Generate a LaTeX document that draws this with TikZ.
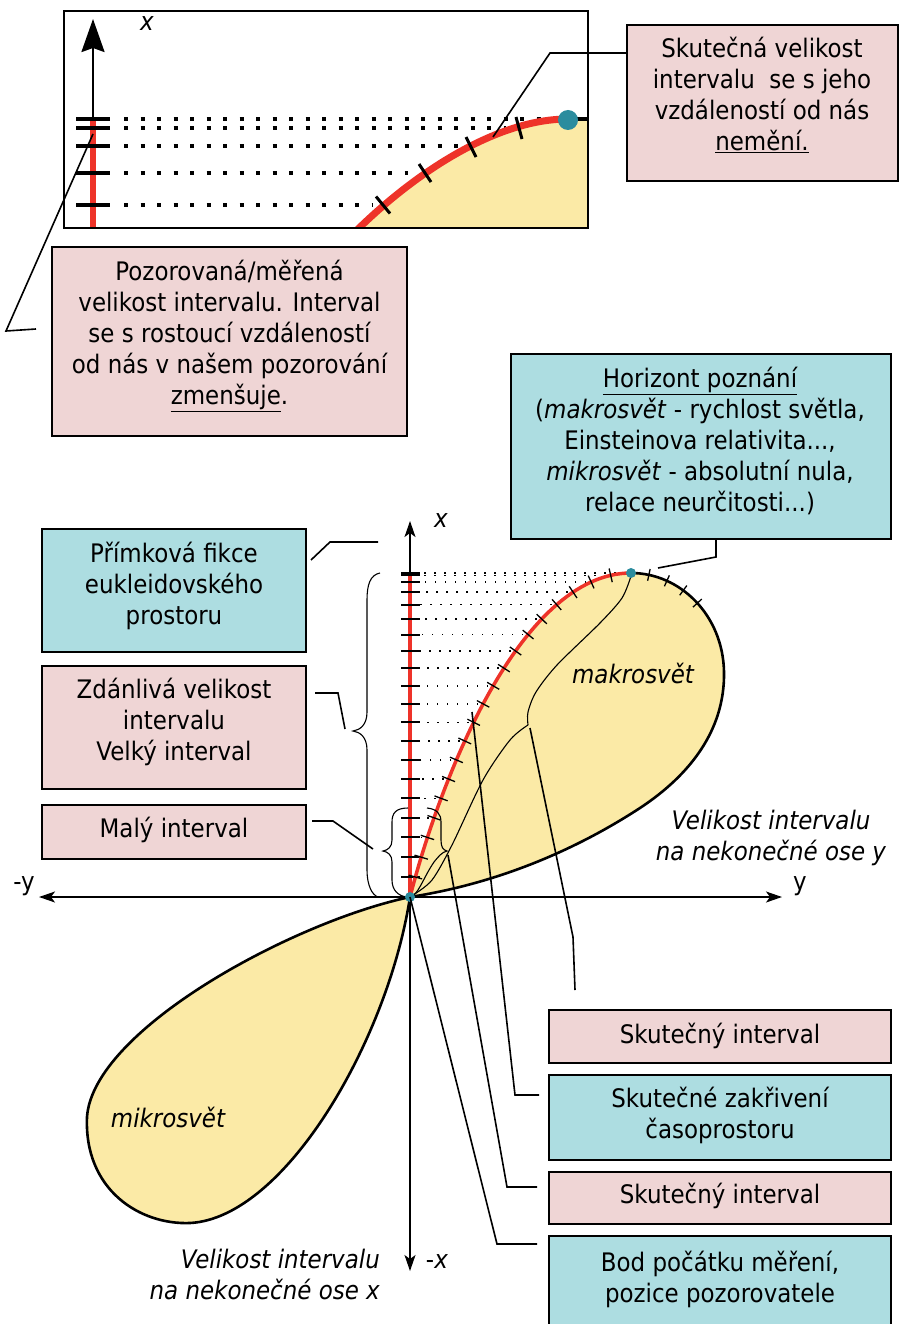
\documentclass[tikz,border=0pt]{standalone}
\usepackage{fontspec}
\setmainfont{DejaVu Sans}[FakeStretch=0.9]
\usetikzlibrary{arrows.meta,decorations.markings}

\definecolor{boxpink}{HTML}{EFD5D5}
\definecolor{boxblue}{HTML}{ADDDE1}
\definecolor{lobe}{HTML}{FBEAA6}
\definecolor{curvered}{HTML}{EE3329}
\definecolor{dotteal}{HTML}{2B8C9E}

\begin{document}
\begin{tikzpicture}[x=1pt, y=-1pt,
  font=\fontsize{25.5}{31}\selectfont,
  panel/.style={draw=black, line width=2pt, inner sep=0pt},
  pinkpanel/.style={panel, fill=boxpink},
  bluepanel/.style={panel, fill=boxblue},
  caption/.style={align=center, inner sep=0pt},
  connector/.style={line width=1.6pt},
  bracecurve/.style={line width=1.1pt},
  axisline/.style={line width=1.4pt, >={Stealth[length=16pt, width=11pt, inset=4pt]}, <->},
  axtick/.style={line width=2pt},
  dotrow/.style={line width=1.6pt, dash pattern=on 1.6pt off 8.4pt, dash phase=5pt},
  lobeline/.style={line width=2.6pt},
  bigtick/.style={line width=4pt},
  bigdots/.style={line width=4pt, dash pattern=on 4pt off 12.5pt},
]
\useasboundingbox (0,0) rectangle (900,1324);

% ---------- small detail panel at the top ----------
\begin{scope}
  \clip (64,11) rectangle (588,228);
  \fill[lobe] (356,231) .. controls (420,168) and (500,119) .. (568,119)
        -- (590,119) -- (590,231) -- cycle;
  \foreach \yy/\xe in {119/556,128/506,146/458,173/408,205/372}
    \draw[bigdots] (124,\yy) -- (\xe,\yy);
  \draw[line width=4pt] (568,119) -- (590,119);
  \draw[curvered, line width=7pt] (356,231) .. controls (420,168) and (500,119) .. (568,119);
  \foreach \ax/\ay/\bx/\by in {376/196.5/390/213.5, 419/164/431/182, 466/137/476/157, 516/117/522/139}
    \draw[line width=3pt] (\ax,\ay) -- (\bx,\by);
  \draw[line width=2.5pt, -{Stealth[length=33pt, width=23pt, inset=4pt]}] (93,230) -- (93,19);
  \draw[curvered, line width=6pt] (93,119) -- (93,230);
  \foreach \yy in {119,128,146,173,205}
    \draw[bigtick] (76,\yy) -- (110,\yy);
\end{scope}
\node[panel, minimum width=524pt, minimum height=217pt] (inset) at (326,119.5) {};
\fill[dotteal] (568,120) circle (10pt);
\node[inner sep=0pt] (insetx) at (147,24) {\itshape x};

% ---------- main diagram: lobes ----------
\coordinate (O) at (410,897);
\coordinate (D) at (631,573);

\fill[lobe] (O) .. controls (440,780) and (520,573) .. (D)
  .. controls (680,573) and (723,615) .. (724,672)
  .. controls (725,730) and (690,775) .. (640,808)
  .. controls (600,834) and (520,880) .. (O) -- cycle;

\filldraw[fill=lobe, lobeline] (O) .. controls (292,922) and (93,1030) .. (87,1117)
  .. controls (84,1190) and (140,1225) .. (190,1223)
  .. controls (285,1218) and (388,1040) .. (O) -- cycle;

\draw[lobeline] (D) .. controls (680,573) and (723,615) .. (724,672)
  .. controls (725,730) and (690,775) .. (640,808)
  .. controls (600,834) and (520,880) .. (O);
\path[decorate, decoration={markings,
    mark=at position 18pt with {\draw[line width=1.3pt] (0pt,-6pt) -- (0pt,6pt);},
    mark=at position 37pt with {\draw[line width=1.3pt] (0pt,-6pt) -- (0pt,6pt);},
    mark=at position 56pt with {\draw[line width=1.3pt] (0pt,-6pt) -- (0pt,6pt);},
    mark=at position 75pt with {\draw[line width=1.3pt] (0pt,-6pt) -- (0pt,6pt);}}]
  (D) .. controls (680,573) and (723,615) .. (724,672);

% equal steps along the measured curve
\path[decorate, decoration={markings,
    mark=between positions 0.05 and 0.96 step 0.05 with
      {\coordinate (m\pgfkeysvalueof{/pgf/decoration/mark info/sequence number});}}]
  (O) .. controls (440,780) and (520,573) .. (D);

% ---------- axes ----------
\coordinate (xtop) at (410,521);
\coordinate (xbot) at (410,1271);
\coordinate (yleft) at (39,897);
\coordinate (yright) at (782,897);
\draw[axisline] (xbot) -- (xtop);
\draw[axisline] (yleft) -- (yright);

\foreach \i in {1,...,19}
  \draw[dotrow] (m\i) -- (O |- m\i);
\draw[dotrow] (D) -- (O |- D);
\draw[curvered, line width=3.5pt] (O) -- (O |- D);
\foreach \i in {1,...,19}
  \draw[axtick] (O |- m\i) ++(-9,0) -- ++(19,0);
\draw[axtick] (O |- D) ++(-9,0) -- ++(19,0);

\draw[curvered, line width=3.5pt, postaction={decorate, decoration={markings,
    mark=between positions 0.05 and 0.96 step 0.05 with
      {\draw[black, line width=1.3pt] (0pt,-7pt) -- (0pt,7pt);}}}]
  (O) .. controls (440,780) and (520,573) .. (D);

% ---------- braces ----------
\draw[bracecurve] (380,573) .. controls (370,575) and (367,585) .. (367,600) -- (367,712)
  .. controls (367,725) and (360,730) .. (353,731)
  .. controls (360,732) and (367,737) .. (367,750) -- (367,870)
  .. controls (367,885) and (372,895) .. (378,897);
\draw[bracecurve] (408,808) .. controls (396,808) and (392,813) .. (392,822) -- (392,840)
  .. controls (392,847) and (388,850) .. (383,851)
  .. controls (388,852) and (392,855) .. (392,862) -- (392,880)
  .. controls (392,890) and (398,896) .. (407,897);
\draw[bracecurve] (427,808) .. controls (437,809) and (441,814) .. (441,822) -- (441,840)
  .. controls (441,847) and (443,850) .. (447,851)
  .. controls (442,852) and (438,857) .. (434,862)
  .. controls (425,875) and (420,890) .. (413,896);
\draw[bracecurve] plot[smooth] coordinates {(413,895) (432,880) (452,845) (483,780) (510,740) (528,725)};
\draw[bracecurve] plot[smooth] coordinates {(528,725) (528,712) (536,692) (557,665) (600,623) (622,598) (631,576)};

% ---------- dots ----------
\fill[dotteal] (O) circle (5pt);
\fill[dotteal] (D) circle (5pt);

% ---------- labelled panels ----------
\node[pinkpanel, minimum width=271pt, minimum height=156pt] (realbox) at (762.5,103) {};
\node[caption] (realtext) at (762,94.5) {Skutečná velikost\\intervalu~ se s jeho\\vzdáleností od nás\\\underline{nemění.}};

\node[pinkpanel, minimum width=355pt, minimum height=189pt] (obsbox) at (229.5,341.5) {};
\node[caption] (obstext) at (229.5,336) {Pozorovaná/měřená\\velikost intervalu. Interval\\se s rostoucí vzdáleností\\od nás v našem pozorování\\\underline{zmenšuje}.};

\node[bluepanel, minimum width=380pt, minimum height=185pt] (horbox) at (701,446.5) {};
\node[caption] (hortext) at (700,441) {\underline{Horizont poznání}\\(\textit{makrosvět} - rychlost světla,\\Einsteinova relativita...,\\\textit{mikrosvět} - absolutní nula,\\relace neurčitosti...)};

\node[bluepanel, minimum width=264pt, minimum height=123pt] (linebox) at (174,590.5) {};
\node[caption] (linetext) at (174,586) {Přímková fikce\\eukleidovského\\prostoru};

\node[pinkpanel, minimum width=264pt, minimum height=123pt] (appbox) at (174,727.5) {};
\node[caption] (apptext) at (174,722) {Zdánlivá velikost\\intervalu\\Velký interval};

\node[pinkpanel, minimum width=264pt, minimum height=54pt] (smallbox) at (174,832) {};
\node[caption] (smalltext) at (174,830) {Malý interval};

\node[pinkpanel, minimum width=342pt, minimum height=53pt] (trueA) at (720,1036.5) {};
\node[caption] (trueAtext) at (720,1036) {Skutečný interval};

\node[bluepanel, minimum width=342pt, minimum height=85pt] (bendbox) at (720,1117.5) {};
\node[caption] (bendtext) at (720,1115) {Skutečné zakřivení\\časoprostoru};

\node[pinkpanel, minimum width=342pt, minimum height=52pt] (trueB) at (720,1198) {};
\node[caption] (trueBtext) at (720,1196) {Skutečný interval};

\node[bluepanel, minimum width=342pt, minimum height=104pt] (originbox) at (720,1288) {};
\node[caption] (origintext) at (720,1279.5) {Bod počátku měření,\\pozice pozorovatele};

% ---------- connectors ----------
\coordinate (cA1) at (550,53);  \coordinate (cA2) at (493,137);
\draw[connector] (realbox.west |- cA1) -- (cA1) -- (cA2);
\coordinate (cB0) at (36,329); \coordinate (cB1) at (6,331); \coordinate (cB2) at (93,134);
\draw[connector] (cB0) -- (cB1) -- (cB2);
\coordinate (cC0) at (311,560); \coordinate (cC1) at (330,542); \coordinate (cC2) at (378,542);
\draw[connector] (cC0) -- (cC1) -- (cC2);
\coordinate (cD0) at (315,693); \coordinate (cD1) at (338,693); \coordinate (cD2) at (345,729);
\draw[connector] (cD0) -- (cD1) -- (cD2);
\coordinate (cE0) at (312,821); \coordinate (cE1) at (333,821); \coordinate (cE2) at (373,849);
\draw[connector] (cE0) -- (cE1) -- (cE2);
\coordinate (cF1) at (716,557); \coordinate (cF2) at (658,568);
\draw[connector] (horbox.south -| cF1) -- (cF1) -- (cF2);
\coordinate (cG0) at (530,728); \coordinate (cG1) at (573,937); \coordinate (cG2) at (575,990);
\draw[connector] (cG0) -- (cG1) -- (cG2);
\coordinate (cH0) at (472,712); \coordinate (cH1) at (515,1095); \coordinate (cH2) at (539,1095);
\draw[connector] (cH0) -- (cH1) -- (cH2);
\coordinate (cI0) at (448,855); \coordinate (cI1) at (507,1187); \coordinate (cI2) at (537,1187);
\draw[connector] (cI0) -- (cI1) -- (cI2);
\coordinate (cJ1) at (497,1244); \coordinate (cJ2) at (537,1244);
\draw[connector] (O) -- (cJ1) -- (cJ2);

% ---------- axis and region labels ----------
\node[inner sep=0pt] (lx) at (441,521) {\itshape x};
\node[inner sep=0pt] (lmx) at (437,1262) {-\textit{x}};
\node[inner sep=0pt] (lmy) at (24,886) {-y};
\node[inner sep=0pt] (ly) at (800,886) {y};
\node[inner sep=0pt] (macro) at (633,673) {\itshape makrosvět};
\node[inner sep=0pt] (micro) at (168,1117) {\itshape mikrosvět};
\node[caption] (ysize) at (771,838) {\itshape Velikost intervalu\\\itshape na nekonečné ose y};
\node[align=right, inner sep=0pt, anchor=east] (xsize) at (380,1274) {\itshape Velikost intervalu\\\itshape na nekonečné ose x};
\end{tikzpicture}
\end{document}
